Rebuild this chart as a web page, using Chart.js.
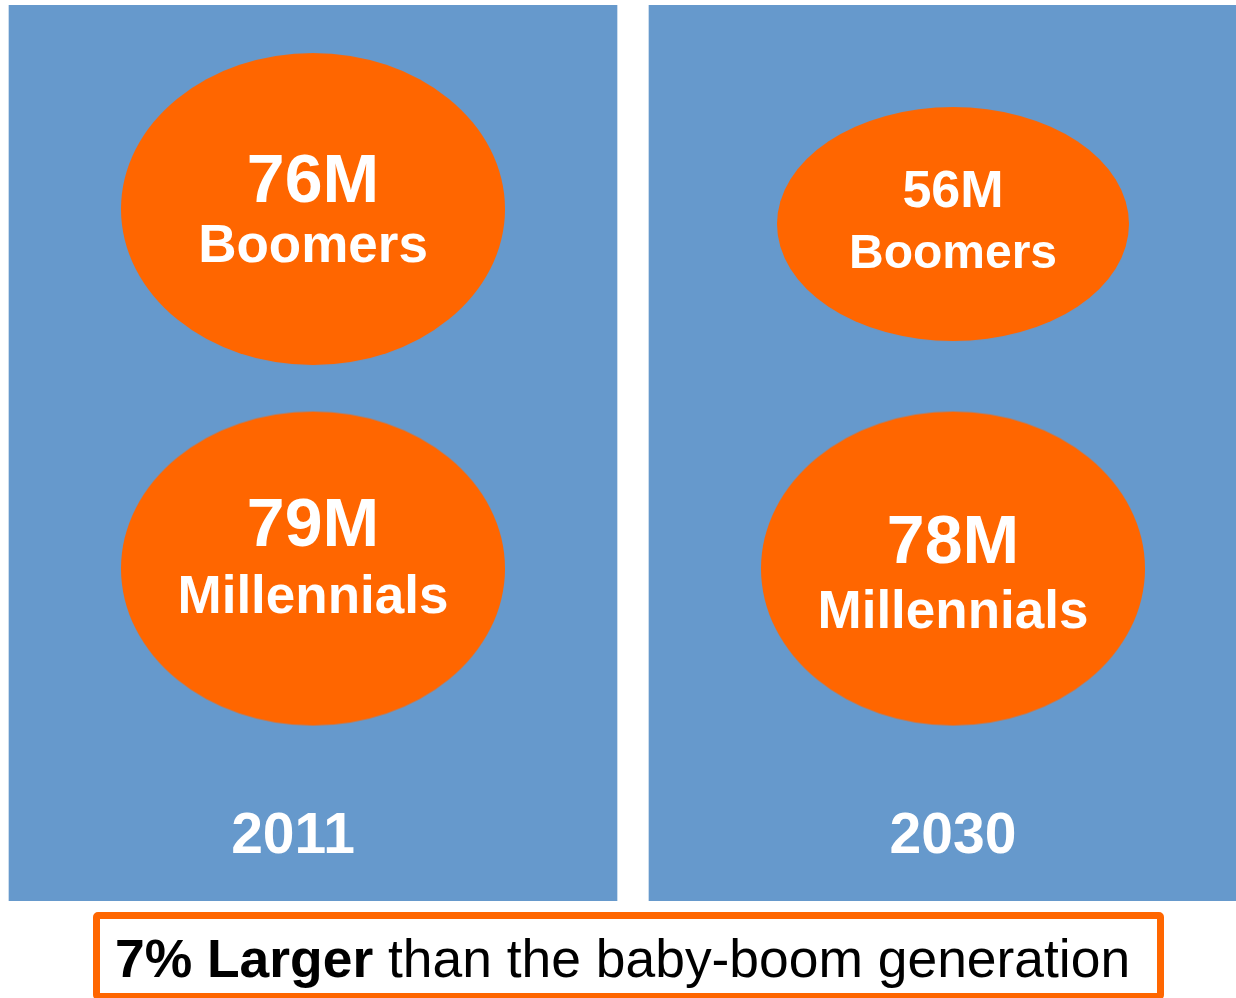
<!DOCTYPE html>
<html>
<head>
<meta charset="utf-8">
<title>Boomers vs Millennials</title>
<script src="https://cdn.jsdelivr.net/npm/chart.js@4.4.1/dist/chart.umd.min.js"></script>
<style>
  html, body { margin: 0; padding: 0; background: #fff; }
  #wrap { position: relative; width: 1236px; height: 998px; overflow: hidden; }
  #chart { display: block; }
  #caption {
    position: absolute;
    left: 93px; top: 912px;
    width: 1071px; height: 88px;
    box-sizing: border-box;
    border: 7px solid #FF6600;
    border-radius: 5px;
    background: #fff;
    padding: 10px 0 0 15px;
    font: 53.4px/60px "Liberation Sans", Arial, Helvetica, sans-serif;
    color: #000;
    white-space: nowrap;
  }
</style>
</head>
<body>
<div id="wrap">
  <canvas id="chart" width="1236" height="998"></canvas>
  <div id="caption"></div>
</div>
<script>
// data
const years = ['2011', '2030'];
const groups = ['Boomers', 'Millennials'];
const boomers = [76, 56];       // millions
const millennials = [79, 78];   // millions
const captionBold = '7% Larger';
const captionRest = ' than the baby-boom generation';

const BLUE = '#6699CC';
const ORANGE = '#FF6600';
const FONT = '"Liberation Sans", Arial, Helvetica, sans-serif';

// ellipse size, vertical nudge and label placement per bubble (styles only)
const boomerStyle = [
  { rx: 192, ry: 156, dy: -7, num: 68, name: 53, numDy: -14, nameDy: 46 },
  { rx: 176, ry: 117, dy: 8, num: 52, name: 48, numDy: -9, nameDy: 52 }
];
const millennialStyle = [
  { rx: 192, ry: 157, dy: 0, num: 68, name: 53, numDy: -23, nameDy: 44 },
  { rx: 192, ry: 157, dy: 0, num: 68, name: 53, numDy: -6, nameDy: 59 }
];
const yearLabelDx = [-20, 0];

// ellipse drawn on its own canvas, used as the bubble's point style
function ellipseImage(s, color) {
  const c = document.createElement('canvas');
  c.width = Math.ceil(s.rx * 2) + 2;
  c.height = Math.ceil(s.ry * 2) + 2 + Math.abs(s.dy) * 2;
  const g = c.getContext('2d');
  g.fillStyle = color;
  g.beginPath();
  g.ellipse(c.width / 2, c.height / 2 + s.dy, s.rx, s.ry, 0, 0, Math.PI * 2);
  g.fill();
  return c;
}

const boomerImgs = boomerStyle.map(s => ellipseImage(s, ORANGE));
const millennialImgs = millennialStyle.map(s => ellipseImage(s, ORANGE));

// value + group name inside each ellipse, year inside each panel
const labelPlugin = {
  id: 'bubbleLabels',
  afterDatasetsDraw(chart) {
    const ctx = chart.ctx;
    ctx.save();
    ctx.fillStyle = '#FFFFFF';
    ctx.textAlign = 'center';
    ctx.textBaseline = 'alphabetic';
    chart.data.datasets.forEach((ds, di) => {
      const meta = chart.getDatasetMeta(di);
      meta.data.forEach((el, i) => {
        if (ds.type === 'bubble') {
          const st = ds.labelStyle[i];
          ctx.font = `bold ${st.num}px ${FONT}`;
          ctx.fillText(ds.data[i].v + 'M', el.x, el.y + st.numDy);
          ctx.font = `bold ${st.name}px ${FONT}`;
          ctx.fillText(ds.label, el.x, el.y + st.nameDy);
        } else {
          ctx.font = `bold 57px ${FONT}`;
          ctx.fillText(years[i], el.x + yearLabelDx[i], chart.chartArea.bottom - 48);
        }
      });
    });
    ctx.restore();
  }
};

new Chart(document.getElementById('chart'), {
  type: 'bar',
  data: {
    datasets: [
      {
        type: 'bar',
        label: 'Year',
        data: years.map((yr, i) => ({ x: i, y: 1 })),
        backgroundColor: BLUE,
        borderWidth: 0,
        barThickness: 608,
        yAxisID: 'yp',
        order: 2
      },
      {
        type: 'bubble',
        label: groups[0],
        data: boomers.map((v, i) => ({ x: i, y: 1, v })),
        pointStyle: ctx => boomerImgs[ctx.dataIndex],
        radius: 0.5,
        hoverRadius: 0,
        borderWidth: 0,
        labelStyle: boomerStyle,
        yAxisID: 'y',
        order: 1
      },
      {
        type: 'bubble',
        label: groups[1],
        data: millennials.map((v, i) => ({ x: i, y: 0, v })),
        pointStyle: ctx => millennialImgs[ctx.dataIndex],
        radius: 0.5,
        hoverRadius: 0,
        borderWidth: 0,
        labelStyle: millennialStyle,
        yAxisID: 'y',
        order: 1
      }
    ]
  },
  options: {
    responsive: false,
    animation: false,
    devicePixelRatio: 1,
    events: [],
    layout: { autoPadding: false, padding: { top: 5, bottom: 97, left: 0, right: 0 } },
    plugins: {
      legend: { display: false },
      tooltip: { enabled: false },
      title: { display: false }
    },
    scales: {
      x: { type: 'linear', display: false, offset: false, min: -0.48906, max: 1.44219 },
      y: { type: 'linear', display: false, min: -0.9432, max: 1.5986 },
      yp: { type: 'linear', display: false, min: 0, max: 1 }
    }
  },
  plugins: [labelPlugin]
});

const cap = document.getElementById('caption');
const b = document.createElement('b');
b.textContent = captionBold;
cap.appendChild(b);
cap.appendChild(document.createTextNode(captionRest));
</script>
</body>
</html>
